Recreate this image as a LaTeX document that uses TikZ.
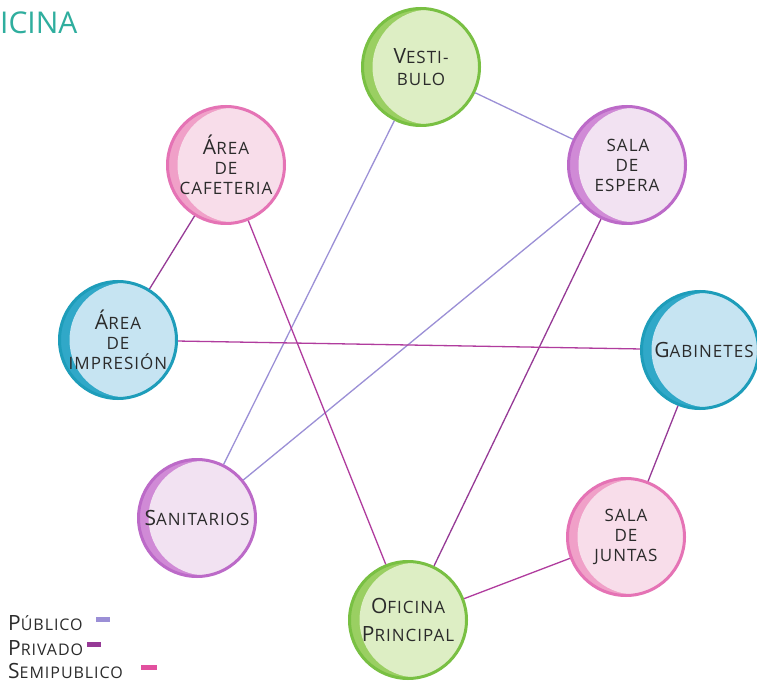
\documentclass[tikz,border=0pt]{standalone}
\usepackage{fontspec}
\setmainfont{Open Sans}
\newfontfamily\hand[LetterSpace=6]{Open Sans}
\newfontfamily\titlefont{Open Sans}
\definecolor{txt}{HTML}{2B2B2B}
\definecolor{pub}{HTML}{9B8FD6}
\definecolor{priv}{HTML}{963A96}
\definecolor{semi}{HTML}{B03C9E}
\definecolor{semisw}{HTML}{E2509F}
\definecolor{ttl}{HTML}{2FAE9E}
\definecolor{gB}{HTML}{79C043}\definecolor{gD}{HTML}{9ACF62}\definecolor{gL}{HTML}{DDEEC4}
\definecolor{pB}{HTML}{E573B5}\definecolor{pD}{HTML}{F0A0C8}\definecolor{pL}{HTML}{F8DDEA}
\definecolor{vB}{HTML}{BC6AC8}\definecolor{vD}{HTML}{D08AD6}\definecolor{vL}{HTML}{F2E2F2}
\definecolor{bB}{HTML}{1E9DBA}\definecolor{bD}{HTML}{30A8C8}\definecolor{bL}{HTML}{C6E4F2}
\newcommand{\BigL}[1]{{\fontsize{21}{22}\selectfont #1}}
\begin{document}
\begin{tikzpicture}[x=1pt,y=-1pt,
  room/.style n args={3}{circle, minimum size=117pt, inner sep=0pt, line width=3pt,
     draw=#1, fill=#2, align=center, text=txt,
     font=\hand\fontsize{17}{20}\selectfont,
     path picture={\fill[#3] ([xshift=9pt]path picture bounding box.center) circle[radius=57.5pt];}},
  green/.style={room={gB}{gD}{gL}},
  pink/.style={room={pB}{pD}{pL}},
  violet/.style={room={vB}{vD}{vL}},
  blue/.style={room={bB}{bD}{bL}},
  edge/.style={line width=1.3pt},
  lg/.style={anchor=base west, text=txt, font=\hand\fontsize{16}{16}\selectfont, inner sep=0pt}
]
\useasboundingbox (0,0) rectangle (757,692);
\fill[white] (0,0) rectangle (757,692);

\node[green]  (vest) at (421,67)  {\BigL{V}ESTI-\\[2pt]BULO};
\node[pink]   (caf)  at (226,165) {\BigL{Á}REA\\DE\\CAFETERIA};
\node[violet] (esp)  at (627,165) {\hspace{2pt}SALA\\DE\\ESPERA};
\node[blue]   (imp)  at (118,340) {\BigL{Á}REA\\DE\\IMPRESIÓN};
\node[blue]   (gab)  at (700,350) {\hspace{8pt}\BigL{G}ABINETES};
\node[violet] (san)  at (197,518) {\BigL{S}ANITARIOS};
\node[pink]   (jun)  at (626,537) {SALA\\DE\\JUNTAS};
\node[green]  (ofi)  at (408,620) {\BigL{O}FICINA\\[8pt]\BigL{P}RINCIPAL};

\draw[edge,pub]  (vest) -- (esp);
\draw[edge,pub]  (vest) -- (san);
\draw[edge,pub]  (esp)  -- (san);
\draw[edge,priv] (esp)  -- (ofi);
\draw[edge,priv] (caf)  -- (imp);
\draw[edge,semi] (caf)  -- (ofi);
\draw[edge,semi] (imp)  -- (gab);
\draw[edge,priv] (gab)  -- (jun);
\draw[edge,semi] (jun)  -- (ofi);

\node[anchor=base west, inner sep=0pt, text=ttl, font=\titlefont\fontsize{30}{30}\selectfont] (title) at (0,34) {ICINA};

\node[lg] (l1) at (8,630) {\BigL{P}ÚBLICO};
\node[lg] (l2) at (8,655) {\BigL{P}RIVADO};
\node[lg] (l3) at (8,678) {\BigL{S}EMIPUBLICO};
\fill[pub]    (96,617) rectangle (110,622);
\fill[priv]   (87,642) rectangle (101,647);
\fill[semisw] (141,665) rectangle (157,670);
\end{tikzpicture}
\end{document}
